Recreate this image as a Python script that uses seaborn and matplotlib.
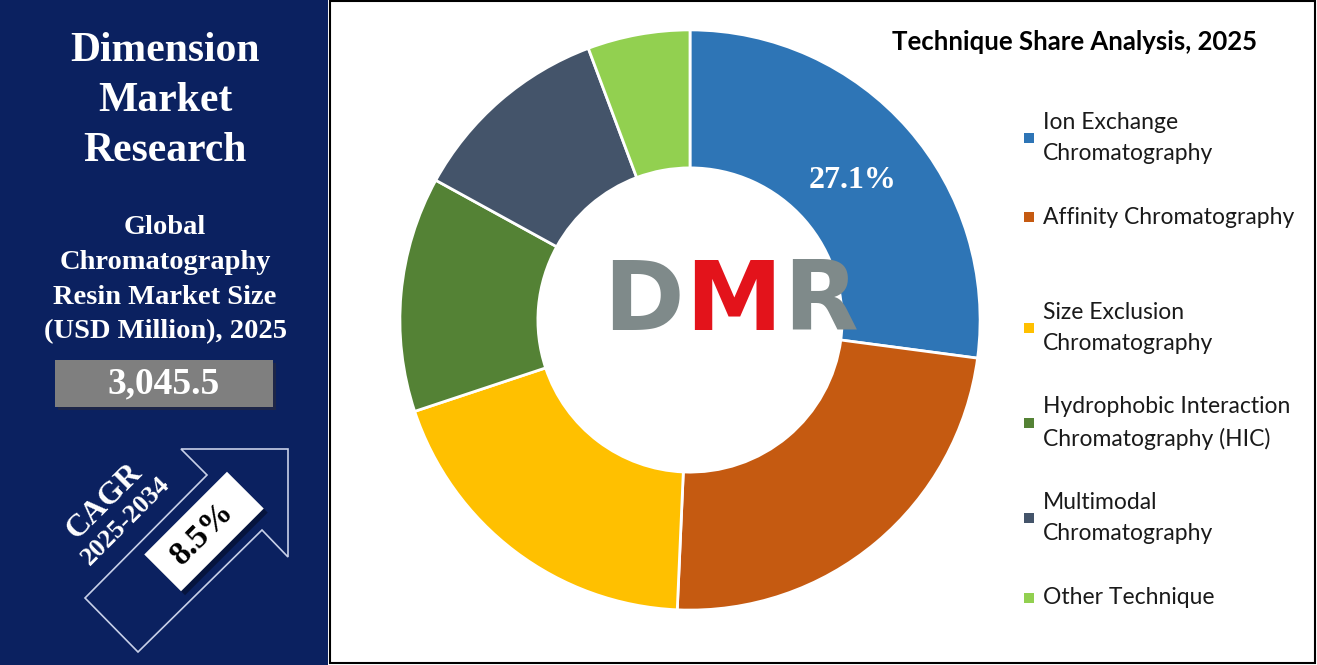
import numpy as np
import matplotlib
matplotlib.use("Agg")
import matplotlib.pyplot as plt
import seaborn as sns
from matplotlib.patches import Rectangle, Polygon

# Dados
tecnicas = ['Ion Exchange\nChromatography', 'Affinity Chromatography', 'Size Exclusion\nChromatography',
            'Hydrophobic Interaction\nChromatography (HIC)', 'Multimodal\nChromatography', 'Other Technique']
participacao = [27.1, 23.6, 19.2, 13.1, 11.3, 5.7]
cores = ['#2e75b6', '#c55a11', '#ffc000', '#548235', '#44546a', '#92d050']
legenda_y = [138, 217, 328, 423, 518, 598]

titulo = 'Technique Share Analysis, 2025'
marca = ['Dimension', 'Market', 'Research']
subtitulo = ['Global', 'Chromatography', 'Resin Market Size', '(USD Million), 2025']
tamanho_mercado = '3,045.5'
cagr = '8.5%'

sns.set_theme(style='white')
paleta = sns.color_palette(cores)

fig = plt.figure(figsize=(13.17, 6.65), dpi=100)
fig.patch.set_facecolor('white')

# Camada de fundo em pixels
bg = fig.add_axes([0, 0, 1, 1])
bg.set_xlim(0, 1317)
bg.set_ylim(665, 0)
bg.axis('off')

navy = '#0b2160'
bg.add_patch(Rectangle((0, 0), 328, 665, facecolor=navy, edgecolor='none'))
bg.add_patch(Rectangle((330, 1), 985, 662, facecolor='none', edgecolor='black', linewidth=1.5))

serif = 'Liberation Serif'
for i, txt in enumerate(marca):
    bg.text(165, 51 + i * 50, txt, ha='center', va='center', color='white',
            fontsize=30, fontweight='bold', family=serif)
for i, txt in enumerate(subtitulo):
    bg.text(165, 228 + i * 34.5, txt, ha='center', va='center', color='white',
            fontsize=20.5, fontweight='bold', family=serif)

# Caixa do valor
bg.add_patch(Rectangle((58, 363), 218, 47, facecolor='#2a2a3a', edgecolor='none', alpha=0.6))
bg.add_patch(Rectangle((55, 360), 218, 47, facecolor='#7f7f7f', edgecolor='none'))
bg.text(164, 384, tamanho_mercado, ha='center', va='center', color='white',
        fontsize=27, fontweight='bold', family=serif)

# Seta do CAGR
seta = [(288, 449), (181, 449), (207, 475), (85, 598), (138, 652), (262, 530), (288, 557)]
bg.add_patch(Polygon(seta, closed=True, facecolor='none', edgecolor='#c8d0e8', linewidth=1.2))
bg.text(104, 501, 'CAGR', ha='center', va='center', rotation=45, color='white',
        fontsize=23, fontweight='bold', family=serif)
bg.text(126, 521, '2025-2034', ha='center', va='center', rotation=45, color='white',
        fontsize=19, fontweight='bold', family=serif)

cx, cy = 204, 531.5
ang = np.deg2rad(-45)
u = np.array([np.cos(ang), np.sin(ang)])
v = np.array([-np.sin(ang), np.cos(ang)])
w, h = 117, 52
cantos = [np.array([cx, cy]) + a * w / 2 * u + b * h / 2 * v for a, b in [(-1, -1), (1, -1), (1, 1), (-1, 1)]]
bg.add_patch(Polygon([c + np.array([4, 4]) for c in cantos], closed=True, facecolor='#050f30', edgecolor='none', alpha=0.7))
bg.add_patch(Polygon(cantos, closed=True, facecolor='white', edgecolor='none'))
bg.text(cx - 2, cy + 2, cagr, ha='center', va='center', rotation=45, color='black',
        fontsize=24, fontweight='bold', family=serif)

# Título e legenda
bg.text(1075, 42, titulo, ha='center', va='center', color='black',
        fontsize=18.5, fontweight='bold', family='Lato')
for lab, cor, y in zip(tecnicas, paleta, legenda_y):
    bg.add_patch(Rectangle((1024, y - 5), 10, 10, facecolor=cor, edgecolor='none'))
    bg.text(1043, y, lab, ha='left', va='center', color='#1a1a1a',
            fontsize=16.5, family='Lato', linespacing=1.6)

# Gráfico de rosca
ax = fig.add_axes([390 / 1317, 45 / 665, 600 / 1317, 600 / 665])
ax.set_facecolor('none')
wedges, _ = ax.pie(participacao, colors=paleta, startangle=90, counterclock=False,
                   radius=0.967, wedgeprops=dict(width=0.46, edgecolor='white', linewidth=2))
ax.set_xlim(-1, 1)
ax.set_ylim(-1, 1)
ax.set_aspect('equal')
ax.axis('off')

# Camada superior: rótulo e logo
top = fig.add_axes([0, 0, 1, 1])
top.set_xlim(0, 1317)
top.set_ylim(665, 0)
top.set_facecolor('none')
top.axis('off')

top.text(853, 180, f'{participacao[0]}%', ha='center', va='center', color='white',
         fontsize=23, fontweight='bold', family=serif)

top.text(643, 303, 'D', ha='center', va='center', color='#7f8a8a', fontsize=70, fontweight='bold', family='DejaVu Sans')
top.text(734, 303, 'M', ha='center', va='center', color='#e3131b', fontsize=70, fontweight='bold', family='DejaVu Sans')
top.text(821, 303, 'R', ha='center', va='center', color='#7f8a8a', fontsize=70, fontweight='bold', family='DejaVu Sans')

plt.savefig('out.png', dpi=100)
